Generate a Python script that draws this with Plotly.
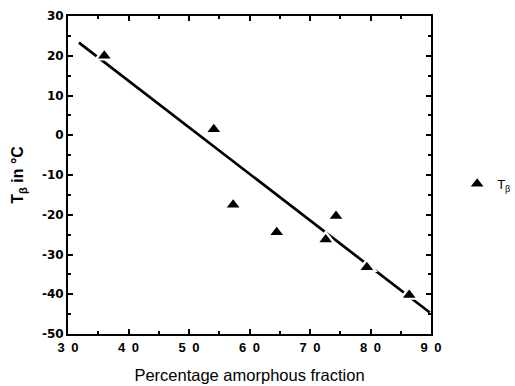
import plotly.graph_objects as go

# Measured beta-transition temperature vs amorphous fraction
amorphous_pct = [36.0, 54.1, 57.3, 64.5, 72.6, 74.3, 79.4, 86.4]
t_beta = [20.0, 1.5, -17.5, -24.4, -26.2, -20.3, -33.2, -40.2]

# Linear trend line end points
fit_x = [31.8, 89.8]
fit_y = [23.3, -44.6]

x_ticks = [30, 40, 50, 60, 70, 80, 90]
x_ticktext = ["3\u20020", "4\u20020", "5\u20020", "6\u20020", "7\u20020", "8\u20020", "9\u20020"]
y_ticks = [30, 20, 10, 0, -10, -20, -30, -40, -50]
y_ticktext = ["30", "20", "10", "0", "-10", "-20", "-30", "-40", "-50"]

fig = go.Figure()

fig.add_trace(go.Scatter(
    x=fit_x, y=fit_y, mode="lines",
    line=dict(color="black", width=2.7),
    showlegend=False, hoverinfo="skip",
))

# white halo behind each marker breaks the trend line around it
fig.add_trace(go.Scatter(
    x=amorphous_pct, y=t_beta, mode="markers",
    marker=dict(symbol="triangle-up", size=19, color="white"),
    showlegend=False, hoverinfo="skip",
))

fig.add_trace(go.Scatter(
    x=amorphous_pct, y=t_beta, mode="markers",
    name="T<sub>β</sub>",
    marker=dict(symbol="triangle-up", size=11, color="black"),
))

axis_common = dict(
    showline=True, linecolor="black", linewidth=2,
    mirror="ticks", ticks="inside", ticklen=5, tickwidth=1.5, tickcolor="black",
    showgrid=False, zeroline=False,
    minor=dict(ticks="inside", ticklen=3, tickwidth=1.5, tickcolor="black", dtick=5),
)

fig.update_xaxes(
    range=[30, 90], tickvals=x_ticks,
    ticktext=["<b>%s</b>" % t for t in x_ticktext],
    tickfont=dict(family="Liberation Sans, Arial", size=13, color="black"),
    title=dict(text="Percentage amorphous fraction",
               font=dict(family="Liberation Sans, Arial", size=16.5, color="black"),
               standoff=16),
    **axis_common,
)
fig.update_yaxes(
    range=[-50, 30], tickvals=y_ticks,
    ticktext=["<b>%s</b>" % t for t in y_ticktext],
    tickfont=dict(family="DejaVu Sans", size=12, color="black"),
    title=dict(text="<b>T<sub>β</sub> in °C</b>",
               font=dict(family="Liberation Sans, Arial", size=16, color="black"),
               standoff=14),
    **axis_common,
)

fig.update_layout(
    width=515, height=386,
    margin=dict(l=68, r=84, t=16, b=52, autoexpand=False),
    plot_bgcolor="white", paper_bgcolor="white",
    legend=dict(x=1.072, y=0.472, xanchor="left", yanchor="middle",
                font=dict(family="Liberation Sans, Arial", size=13, color="black"),
                bgcolor="rgba(0,0,0,0)"),
)

fig.write_html("out.html")
